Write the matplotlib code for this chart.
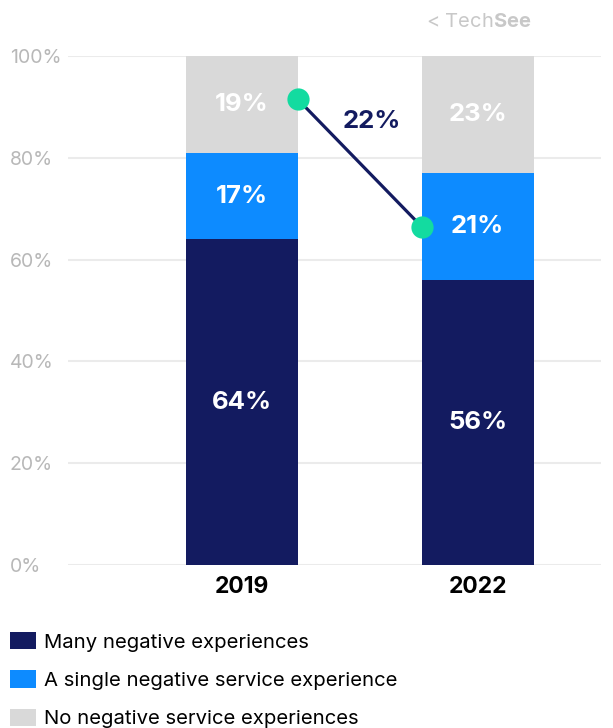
import matplotlib.pyplot as plt

plt.rcParams['font.family'] = ['Inter', 'DejaVu Sans']
plt.rcParams['mathtext.fontset'] = 'custom'
plt.rcParams['mathtext.rm'] = 'Inter'
plt.rcParams['mathtext.bf'] = 'Inter:bold'

years = ['2019', '2022']
many = [64, 56]
single = [17, 21]
none = [19, 23]
series_names = ['Many negative experiences',
                'A single negative service experience',
                'No negative service experiences']
colors = ['#131B60', '#0D8BFF', '#D9D9D9']

# connector between the two years
change_points = [91.5, 66.5]
change_label = '22%'

yticks = [0, 20, 40, 60, 80, 100]

fig = plt.figure(figsize=(6.13, 7.28), dpi=100)
ax = fig.add_axes([0.111, 0.2239, 0.870, 0.6991])

x = list(range(len(years)))
width = 0.475
bottoms = [0] * len(years)
containers = []
for vals, col in zip([many, single, none], colors):
    bc = ax.bar(x, vals, width, bottom=bottoms, color=col, zorder=2)
    containers.append(bc)
    for xi, v, b in zip(x, vals, bottoms):
        ax.text(xi, b + v / 2, f'{v}%', ha='center', va='center',
                color='white', fontsize=18.5, fontweight='bold', zorder=4)
    bottoms = [b + v for b, v in zip(bottoms, vals)]

# line from the right edge of 2019 to the left edge of 2022
cx = [x[0] + width / 2, x[1] - width / 2]
ax.plot(cx, change_points, color='#131B60', lw=2.3, zorder=3)
ax.plot(cx, change_points, 'o', color='#13DBA0', ms=16, mec='none', zorder=5)
ax.text(0.55, 87.2, change_label, ha='center', va='center',
        color='#131B60', fontsize=18.5, fontweight='bold', zorder=4)

ax.set_xlim(-0.737, 1.525)
ax.set_ylim(0, 100)
ax.set_yticks(yticks)
ax.set_yticklabels([f'{t}%' for t in yticks], ha='left')
ax.set_xticks(x)
ax.set_xticklabels(years, fontsize=16.5, fontweight='bold')
ax.grid(axis='y', color='#EBEBEB', lw=1.5, zorder=0)
for s in ax.spines.values():
    s.set_visible(False)
ax.tick_params(axis='y', length=0, labelsize=14, labelcolor='#B8B8B8', pad=42)
ax.tick_params(axis='x', length=0, pad=8)

fig.legend([c[0] for c in containers], series_names, loc='upper left',
           bbox_to_anchor=(0.003, 0.143), frameon=False, fontsize=14.6,
           handlelength=1.3, handleheight=0.95, handletextpad=0.4,
           labelspacing=0.92, borderaxespad=0)

# logo: "Tech" light, "See" bold
fig.text(0.695, 0.963, r'< Tech$\mathbf{See}$', color='#C8C8C8',
         fontsize=14.5, va='baseline')

fig.savefig('out.png', dpi=100)
